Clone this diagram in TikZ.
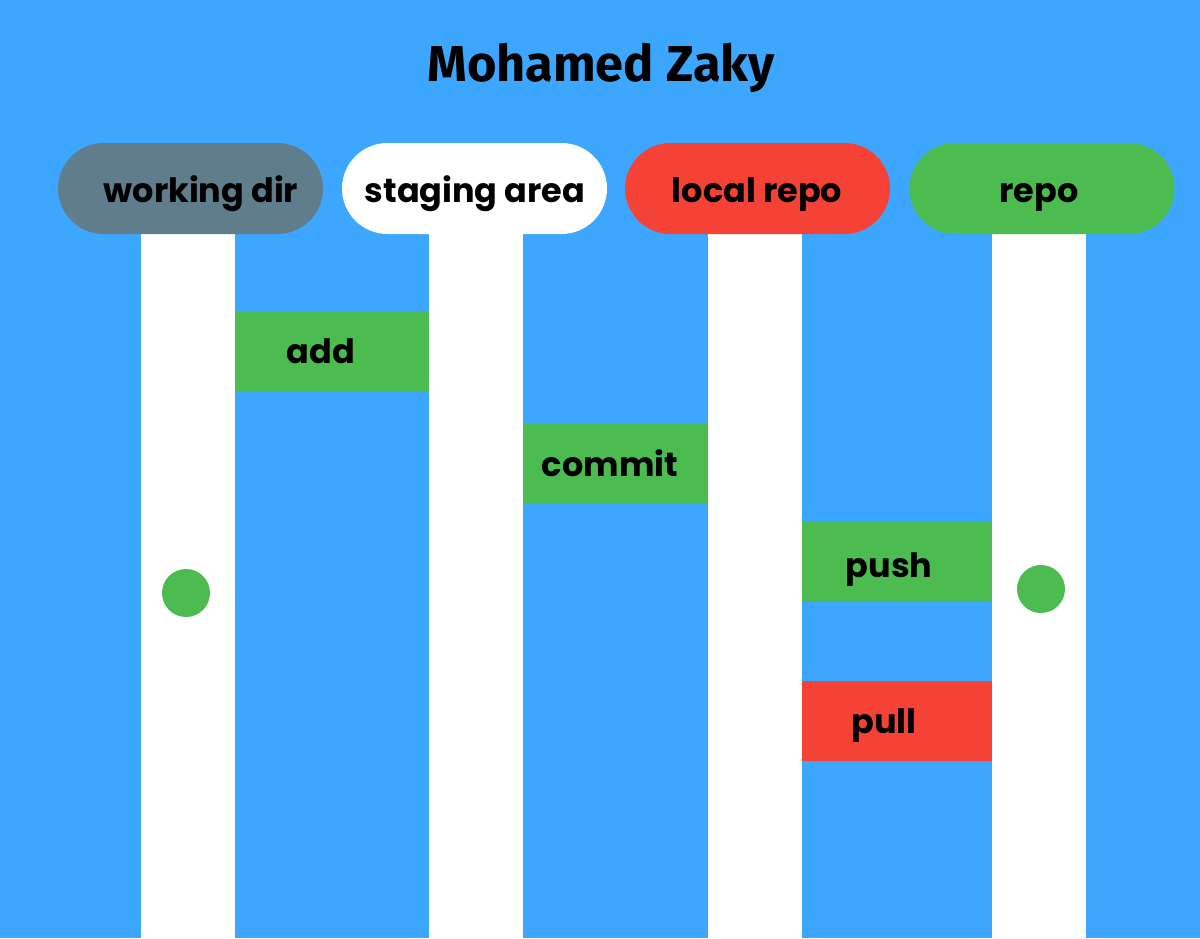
\documentclass[tikz,border=0pt]{standalone}
\usepackage{fontspec}
\usetikzlibrary{shapes.misc}
\newfontfamily\popfont{Poppins}
\newfontfamily\titlefont{Fira Sans}
\definecolor{bgblue}{HTML}{3DA7FF}
\definecolor{wdgray}{HTML}{607D8B}
\definecolor{lred}{HTML}{F44336}
\definecolor{lgreen}{HTML}{4CBB50}
\tikzset{
  pill/.style={rounded rectangle, minimum width=265pt, minimum height=91pt, inner sep=0pt, draw=none},
  bar/.style={rectangle, fill=white, minimum width=94pt, minimum height=704pt, inner sep=0pt},
  actbox/.style={rectangle, minimum height=80pt, inner sep=0pt},
  txt/.style={anchor=base, inner sep=0pt, font=\popfont\bfseries\fontsize{33.5}{38}\selectfont, text=black},
  dot/.style={circle, fill=lgreen, minimum size=48pt, inner sep=0pt}
}
\begin{document}
\begin{tikzpicture}[x=1pt,y=-1pt]
\fill[bgblue] (0,0) rectangle (1200,938);
\useasboundingbox (0,0) rectangle (1200,938);
% title
\node[anchor=base, inner sep=0pt, font=\titlefont\bfseries\fontsize{50.5}{60}\selectfont] (title) at (601,81) {Mohamed Zaky};
% bars
\node[bar] (b1) at (188,586) {};
\node[bar] (b2) at (476,586) {};
\node[bar] (b3) at (755,586) {};
\node[bar] (b4) at (1039,586) {};
% pills
\node[pill, fill=wdgray] (wd) at (190.5,188.5) {};
\node[pill, fill=white] (sa) at (474.5,188.5) {};
\node[pill, fill=lred] (lr) at (757.5,188.5) {};
\node[pill, fill=lgreen] (rp) at (1042,188.5) {};
\node[txt] (wdt) at (201,202) {working dir};
\node[txt] (sat) at (475,202) {staging area};
\node[txt] (lrt) at (757,202) {local repo};
\node[txt] (rpt) at (1039,202) {repo};
% action boxes
\node[actbox, fill=lgreen, minimum width=194pt] (add) at (332,351) {};
\node[actbox, fill=lgreen, minimum width=185pt] (commit) at (615.5,463) {};
\node[actbox, fill=lgreen, minimum width=190pt, minimum height=81pt] (push) at (897,561.5) {};
\node[actbox, fill=lred, minimum width=190pt] (pull) at (897,721) {};
\node[txt] (addt) at (321,363) {add};
\node[txt] (committ) at (610,476) {commit};
\node[txt] (pusht) at (889,577) {push};
\node[txt] (pullt) at (884,733) {pull};
% dots
\node[dot] (d1) at (186,593) {};
\node[dot] (d2) at (1041,589) {};
\end{tikzpicture}
\end{document}
